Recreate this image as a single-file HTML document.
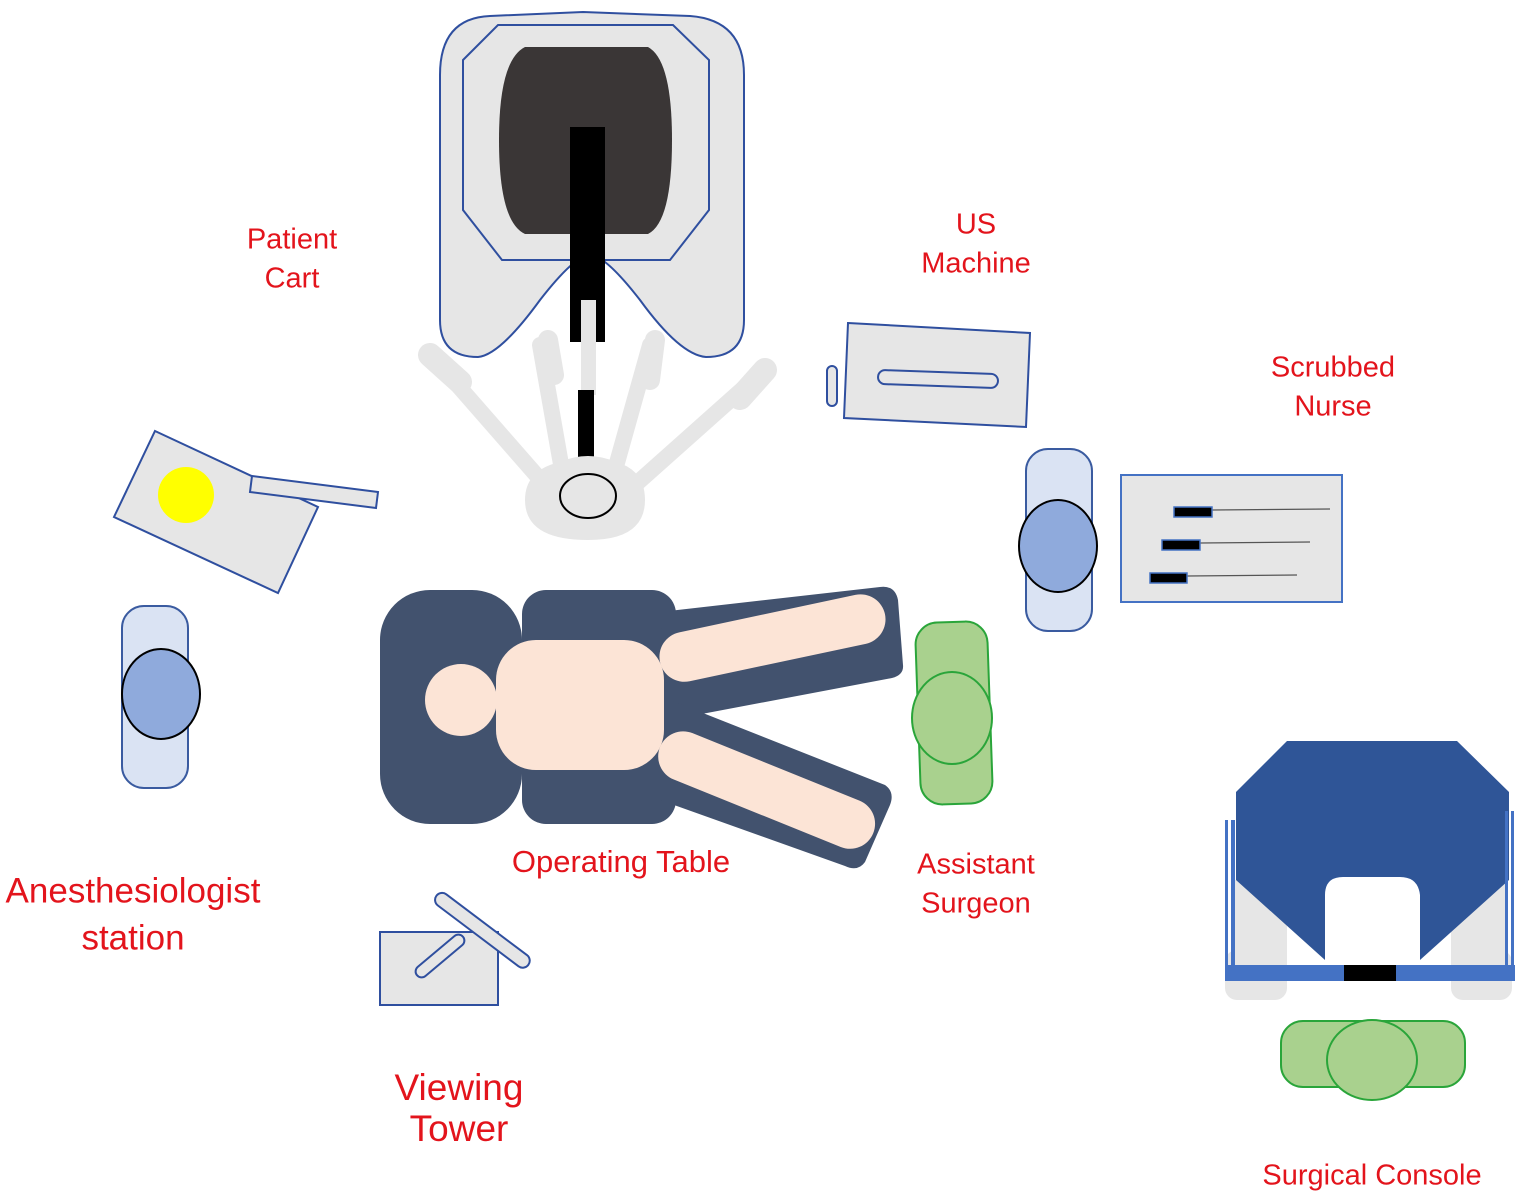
<!DOCTYPE html>
<html><head><meta charset="utf-8"><style>html,body{margin:0;padding:0;background:#fff}svg{display:block}</style></head>
<body>
<svg width="1524" height="1197" viewBox="0 0 1524 1197" xmlns="http://www.w3.org/2000/svg" font-family="Liberation Sans, sans-serif">
<!-- Patient cart arms -->
<g stroke="#e6e6e6" stroke-linecap="round" fill="none">
<line x1="545" y1="485" x2="440" y2="365" stroke-width="16"/>
<line x1="430" y1="355" x2="460" y2="382" stroke-width="24"/>
<line x1="635" y1="485" x2="755" y2="378" stroke-width="16"/>
<line x1="765" y1="370" x2="740" y2="398" stroke-width="24"/>
<line x1="562" y1="470" x2="540" y2="345" stroke-width="16"/>
<line x1="548" y1="340" x2="554" y2="375" stroke-width="20"/>
<line x1="615" y1="470" x2="650" y2="345" stroke-width="16"/>
<line x1="655" y1="340" x2="650" y2="380" stroke-width="20"/>
</g>
<rect x="581" y="320" width="15" height="75" fill="#e6e6e6"/>
<rect x="578" y="390" width="16" height="72" fill="#000"/>
<path d="M560,462 Q588,450 616,462 Q645,470 645,500 Q645,540 588,540 Q525,540 525,500 Q525,470 560,462 Z" fill="#e6e6e6"/>
<ellipse cx="588" cy="496" rx="28" ry="22" fill="none" stroke="#000" stroke-width="2"/>
<!-- Cart body -->
<path d="M440,75 Q440,18 490,16 L583,12 L690,16 Q744,20 744,75 L744,320 Q744,357 706,357 Q680,355 640,300 Q605,255 590,255 Q575,255 540,300 Q500,355 478,357 Q440,357 440,320 Z" fill="#e6e6e6" stroke="#2f4f9f" stroke-width="2"/>
<polygon points="463,60 498,25 673,25 709,60 709,210 670,260 502,260 463,210" fill="none" stroke="#2f4f9f" stroke-width="2"/>
<path d="M525,47 L648,47 Q672,60 672,140 Q672,222 648,234 L525,234 Q499,222 499,140 Q499,60 525,47 Z" fill="#3a3636"/>
<rect x="570" y="127" width="35" height="215" fill="#000"/>
<rect x="581" y="300" width="15" height="42" fill="#e6e6e6"/>

<!-- US machine -->
<polygon points="848,323 1030,333 1026,427 844,418" fill="#e6e6e6" stroke="#2f4f9f" stroke-width="2"/>
<rect x="878" y="372" width="120" height="14" rx="7" transform="rotate(2 938 379)" fill="#e6e6e6" stroke="#2f4f9f" stroke-width="2"/>
<rect x="827" y="366" width="10" height="40" rx="5" fill="#e6e6e6" stroke="#2f4f9f" stroke-width="2"/>

<!-- Scrubbed nurse -->
<rect x="1026" y="449" width="66" height="182" rx="22" fill="#dae3f3" stroke="#3a5ba0" stroke-width="2"/>
<ellipse cx="1058" cy="546" rx="39" ry="46" fill="#8faadc" stroke="#000" stroke-width="2"/>
<rect x="1121" y="475" width="221" height="127" fill="#e6e6e6" stroke="#4472c4" stroke-width="2"/>
<g stroke="#555" stroke-width="1.2"><line x1="1212" y1="510" x2="1330" y2="509"/><line x1="1200" y1="543" x2="1310" y2="542"/><line x1="1187" y1="576" x2="1297" y2="575"/></g>
<g fill="#000" stroke="#4472c4" stroke-width="1.5"><rect x="1174" y="507" width="38" height="10"/><rect x="1162" y="540" width="38" height="10"/><rect x="1150" y="573" width="37" height="10"/></g>

<!-- Anesthesia machine -->
<polygon points="155,431 318,507 278,593 114,517" fill="#e6e6e6" stroke="#2f4f9f" stroke-width="2"/>
<circle cx="186" cy="495" r="28" fill="#ffff00"/>
<polygon points="252,476 378,492 376,508 250,492" fill="#e6e6e6" stroke="#2f4f9f" stroke-width="2"/>
<rect x="122" y="606" width="66" height="182" rx="22" fill="#dae3f3" stroke="#3a5ba0" stroke-width="2"/>
<ellipse cx="161" cy="694" rx="39" ry="45" fill="#8faadc" stroke="#000" stroke-width="2"/>

<!-- Operating table -->
<g fill="#42526e">
<rect x="380" y="590" width="142" height="234" rx="50"/>
<rect x="522" y="590" width="154" height="234" rx="24"/>
<path d="M660,612 L880,587 Q895,585 898,600 L903,665 Q904,675 892,678 L670,720 Z"/>
<path d="M670,700 L885,785 Q895,792 890,805 L865,862 Q858,872 845,866 L660,800 Z"/>
</g>
<g fill="#fce4d6">
<circle cx="461" cy="700" r="36"/>
<rect x="660" y="637" width="230" height="50" rx="25" transform="rotate(-12 660 662)"/>
<rect x="660" y="722" width="230" height="50" rx="25" transform="rotate(22 660 747)"/>
<rect x="496" y="640" width="168" height="130" rx="40"/>
</g>

<!-- Assistant surgeon -->
<rect x="918" y="622" width="72" height="182" rx="22" fill="#a9d18e" stroke="#2aa53a" stroke-width="2" transform="rotate(-2 954 713)"/>
<ellipse cx="952" cy="718" rx="40" ry="46" fill="#a9d18e" stroke="#2aa53a" stroke-width="2"/>

<!-- Viewing tower -->
<rect x="380" y="932" width="118" height="73" fill="#e6e6e6" stroke="#2f4f9f" stroke-width="2"/>
<rect x="410" y="950" width="60" height="12" rx="6" transform="rotate(-40 440 956)" fill="#e6e6e6" stroke="#2f4f9f" stroke-width="2"/>
<rect x="425" y="923" width="115" height="14" rx="7" transform="rotate(37 482 930)" fill="#e6e6e6" stroke="#2f4f9f" stroke-width="2"/>

<!-- Surgical console -->
<rect x="1225" y="950" width="62" height="50" rx="12" fill="#e6e6e6"/>
<rect x="1451" y="950" width="61" height="50" rx="12" fill="#e6e6e6"/>
<rect x="1232" y="880" width="55" height="85" fill="#e6e6e6"/>
<rect x="1451" y="880" width="55" height="85" fill="#e6e6e6"/>
<path d="M1287,741 L1457,741 L1509,792 L1509,880 L1420,960 L1420,895 Q1418,877 1400,877 L1343,877 Q1325,877 1325,895 L1325,960 L1236,880 L1236,792 Z" fill="#2f5597"/>
<g fill="#4472c4">
<rect x="1225" y="820" width="3" height="145"/><rect x="1231" y="820" width="4" height="145"/>
<rect x="1505" y="811" width="3" height="154"/><rect x="1511" y="811" width="3" height="154"/>
<rect x="1225" y="965" width="290" height="16"/>
</g>
<rect x="1344" y="965" width="52" height="16" fill="#000"/>
<rect x="1281" y="1021" width="184" height="66" rx="22" fill="#a9d18e" stroke="#2aa53a" stroke-width="2"/>
<ellipse cx="1372" cy="1060" rx="45" ry="40" fill="#a9d18e" stroke="#2aa53a" stroke-width="2"/>

<!-- Labels -->
<g fill="#e3141c" text-anchor="middle" dominant-baseline="middle" font-size="29">
<text x="292" y="241">Patient</text><text x="292" y="280">Cart</text>
<text x="976" y="226">US</text><text x="976" y="265">Machine</text>
<text x="1333" y="369">Scrubbed</text><text x="1333" y="408">Nurse</text>
<text x="621" y="864" font-size="31">Operating Table</text>
<text x="976" y="866">Assistant</text><text x="976" y="905">Surgeon</text>
<text x="1372" y="1177">Surgical Console</text>
<text x="133" y="893" font-size="35">Anesthesiologist</text><text x="133" y="940" font-size="35">station</text>
<text x="459" y="1090" font-size="37">Viewing</text><text x="459" y="1131" font-size="37">Tower</text>
</g>
</svg>
</body></html>
